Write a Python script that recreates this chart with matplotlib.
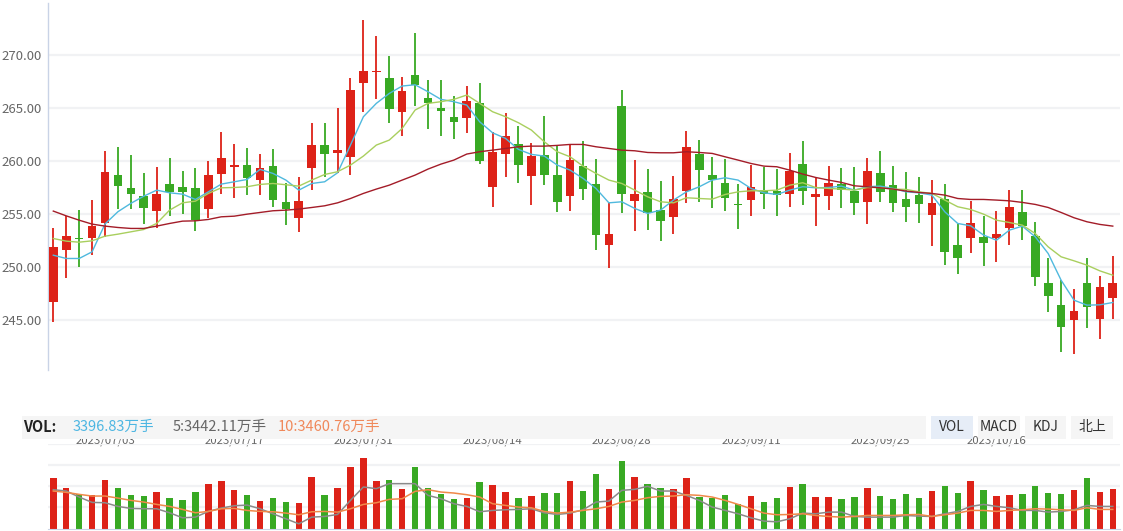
import matplotlib.pyplot as plt
from matplotlib.patches import Rectangle
import numpy as np

plt.rcParams['font.family'] = ['Noto Sans CJK SC', 'DejaVu Sans']

# 일봉 데이터 (시가, 고가, 저가, 종가)
opens = [246.67, 251.59, 252.70, 252.72, 254.14, 258.65, 257.42, 256.66, 255.28, 257.80,
         257.52, 257.39, 255.47, 258.78, 259.44, 259.60, 258.21, 259.50, 256.10, 254.62,
         259.34, 261.49, 260.76, 260.38, 267.38, 268.39, 267.82, 264.64, 268.11, 265.93,
         264.99, 264.14, 264.07, 265.46, 257.55, 260.67, 261.58, 258.59, 260.54, 258.65,
         256.70, 259.50, 257.80, 252.00, 265.18, 256.22, 257.04, 255.34, 254.71, 257.17,
         260.64, 258.65, 257.89, 255.85, 256.32, 257.23, 257.14, 256.89, 259.69, 256.60,
         256.70, 257.80, 257.14, 256.13, 258.84, 257.71, 256.38, 256.76, 254.90, 256.38,
         252.00, 252.72, 252.76, 252.72, 253.67, 255.12, 252.94, 248.50, 246.42, 244.91,
         248.41, 245.06, 247.08]
highs = [253.61, 254.80, 255.34, 256.29, 260.92, 261.30, 260.54, 258.84, 259.41, 260.26,
         259.03, 259.31, 259.97, 262.72, 261.58, 261.20, 260.64, 261.11, 257.86, 258.46,
         263.57, 263.57, 264.99, 267.82, 273.31, 271.80, 269.91, 267.92, 272.08, 267.64,
         267.64, 266.12, 267.07, 267.35, 262.72, 264.51, 263.28, 261.68, 264.23, 261.49,
         261.58, 261.87, 260.16, 256.10, 266.69, 260.07, 259.22, 258.08, 258.56, 262.81,
         261.96, 260.35, 260.16, 257.80, 259.60, 259.41, 259.25, 260.73, 261.87, 258.40,
         259.50, 259.31, 259.41, 260.26, 260.92, 259.50, 258.93, 258.46, 258.18, 257.80,
         254.05, 256.19, 254.77, 255.25, 257.23, 257.23, 254.21, 250.77, 248.78, 247.84,
         250.86, 249.16, 250.96]
lows = [244.78, 248.94, 249.98, 251.08, 252.82, 255.44, 255.44, 254.05, 253.67, 254.80,
        254.99, 253.39, 254.62, 256.82, 256.51, 256.79, 256.79, 255.66, 253.95, 253.29,
        257.26, 258.49, 258.87, 258.68, 264.64, 265.87, 263.60, 262.37, 265.21, 263.03,
        262.37, 262.09, 262.65, 259.72, 255.66, 258.49, 257.93, 255.84, 257.74, 255.18,
        255.28, 256.32, 251.59, 249.89, 255.09, 253.39, 253.48, 252.44, 253.10, 256.03,
        256.13, 255.56, 255.28, 253.58, 254.80, 255.47, 254.80, 255.66, 255.84, 253.86,
        255.37, 255.56, 254.90, 254.05, 256.13, 255.18, 254.24, 254.14, 251.97, 250.17,
        249.32, 251.31, 250.08, 250.45, 252.06, 252.53, 248.18, 245.73, 241.94, 241.75,
        244.21, 243.17, 245.06]
closes = [251.84, 252.94, 252.62, 253.83, 258.93, 257.64, 256.89, 255.56, 256.85, 257.07,
          257.07, 254.43, 258.65, 260.26, 259.63, 258.40, 259.31, 256.32, 255.44, 256.19,
          261.49, 260.67, 261.01, 266.69, 268.49, 268.52, 264.92, 266.60, 267.13, 265.46,
          264.74, 263.66, 265.65, 260.01, 260.86, 262.34, 259.63, 260.45, 258.68, 256.13,
          260.07, 257.36, 253.01, 253.13, 256.82, 256.85, 255.03, 254.33, 256.38, 261.30,
          259.16, 258.21, 256.51, 255.78, 257.52, 256.89, 256.76, 259.03, 257.17, 256.85,
          257.89, 257.23, 256.03, 259.03, 257.04, 256.03, 255.66, 255.94, 256.00, 251.40,
          250.83, 254.17, 252.25, 253.13, 255.59, 253.86, 249.04, 247.18, 244.31, 245.76,
          246.20, 248.03, 248.50]

# 이동평균선
ma5 = [251.08, 250.77, 250.77, 251.40, 254.03, 255.19, 255.98, 256.66, 257.23, 256.98,
       256.85, 256.35, 257.07, 257.80, 258.02, 258.24, 259.19, 258.81, 258.18, 257.23,
       257.86, 258.02, 258.87, 261.49, 264.17, 265.43, 266.37, 267.07, 267.19, 266.53,
       265.81, 265.59, 265.27, 263.69, 262.65, 262.12, 261.08, 260.61, 260.45, 259.60,
       259.12, 258.34, 257.39, 256.03, 256.13, 255.50, 255.03, 255.34, 256.29, 257.07,
       257.55, 258.18, 258.40, 258.18, 257.39, 256.98, 256.82, 257.23, 257.55, 257.45,
       257.48, 257.61, 257.23, 257.55, 257.61, 257.39, 257.07, 256.98, 256.76, 255.18,
       254.08, 253.86, 252.98, 252.50, 253.45, 253.83, 252.82, 251.24, 248.72, 246.83,
       246.36, 246.39, 246.61]
ma10 = [252.66, 252.41, 252.31, 252.44, 252.88, 253.07, 253.29, 253.51, 254.08, 255.34,
        256.03, 256.19, 256.92, 257.45, 257.48, 257.55, 257.77, 257.86, 257.74, 257.61,
        258.18, 258.71, 258.97, 259.60, 260.45, 261.49, 261.96, 263.06, 264.80, 265.43,
        265.59, 265.81, 266.22, 265.43, 264.64, 264.17, 263.60, 262.91, 261.80, 260.86,
        260.38, 259.50, 258.81, 258.18, 257.86, 257.23, 256.60, 256.13, 256.03, 256.51,
        256.44, 256.38, 256.82, 257.07, 257.17, 257.17, 257.23, 257.70, 257.93, 257.48,
        257.39, 257.33, 257.23, 257.48, 257.48, 257.33, 257.30, 257.07, 256.92, 256.29,
        255.66, 255.40, 254.96, 254.39, 254.17, 253.92, 253.13, 251.87, 250.93, 250.55,
        250.14, 249.60, 249.19]
ma30 = [255.25, 254.80, 254.39, 254.02, 253.83, 253.70, 253.61, 253.61, 253.83, 254.08,
        254.30, 254.33, 254.46, 254.71, 254.77, 254.96, 255.12, 255.28, 255.34, 255.44,
        255.59, 255.75, 256.03, 256.44, 256.92, 257.33, 257.70, 258.18, 258.65, 259.22,
        259.69, 260.07, 260.64, 260.86, 261.01, 261.17, 261.33, 261.39, 261.39, 261.46,
        261.55, 261.55, 261.33, 261.17, 261.01, 260.95, 260.79, 260.76, 260.76, 260.86,
        260.79, 260.70, 260.38, 260.07, 259.75, 259.50, 259.44, 259.12, 258.75, 258.43,
        258.18, 257.96, 257.64, 257.55, 257.45, 257.33, 257.14, 257.01, 256.92, 256.76,
        256.44, 256.35, 256.35, 256.29, 256.22, 256.07, 255.88, 255.59, 255.12, 254.62,
        254.24, 253.99, 253.83]

# 거래량 (万手)
volumes = [4355, 3484, 2961, 2874, 4180, 3484, 2874, 2787, 3135, 2613,
           2439, 3135, 3832, 4093, 3309, 2874, 2351, 2613, 2264, 2177,
           4442, 2874, 3484, 5312, 6096, 4093, 4180, 3397, 5312, 3484,
           2961, 2526, 2613, 4006, 3745, 3135, 2613, 2787, 3048, 3048,
           4093, 3222, 4703, 3397, 5835, 4442, 3832, 3484, 3397, 4355,
           2700, 2613, 2874, 2090, 2787, 2264, 2613, 3571, 3832, 2700,
           2700, 2526, 2700, 3484, 2787, 2526, 2961, 2613, 3222, 3658,
           3048, 4093, 3309, 2787, 2874, 2961, 3658, 3048, 2961, 3309,
           4355, 3135, 3397]
vol_ma5 = [3367, 3251, 2729, 2264, 2235, 1916, 1742, 1713, 1713, 1364,
           929, 987, 1481, 1771, 1974, 2032, 1713, 1277, 842, 406,
           987, 1045, 1219, 2439, 3600, 3455, 3890, 3890, 3890, 2874,
           2584, 2148, 1916, 1452, 1568, 1626, 1655, 1713, 1364, 1219,
           1335, 1626, 2293, 2380, 3309, 3397, 3658, 3251, 3251, 2874,
           2439, 1858, 1568, 1277, 929, 639, 581, 842, 1335, 1277,
           1422, 1422, 1045, 987, 987, 987, 1132, 1074, 1045, 1277,
           1481, 1916, 2090, 1916, 1800, 1568, 1568, 1422, 1481, 1626,
           2003, 1916, 1916]
vol_ma10 = [3251, 3135, 2961, 2816, 2816, 2642, 2439, 2293, 2090, 1916,
            1655, 1364, 1481, 1713, 1742, 1568, 1481, 1452, 1335, 1190,
            1452, 1481, 1422, 1713, 2090, 2235, 2526, 2584, 3222, 3367,
            3164, 3077, 2932, 2729, 2148, 2003, 1858, 1800, 1481, 1335,
            1422, 1568, 1713, 1916, 2293, 2439, 2671, 2787, 2816, 2932,
            2874, 2729, 2439, 2090, 1713, 1335, 1190, 1219, 1277, 1132,
            1045, 987, 1045, 1132, 1132, 1132, 1190, 1219, 1045, 1190,
            1335, 1568, 1568, 1481, 1568, 1626, 1713, 1684, 1626, 1568,
            1800, 1655, 1655]

# x축 날짜 라벨
date_idx = [4, 14, 24, 34, 44, 54, 64, 73]
date_labels = ['2023/07/03', '2023/07/17', '2023/07/31', '2023/08/14',
               '2023/08/28', '2023/09/11', '2023/09/25', '2023/10/16']
price_ticks = [245, 250, 255, 260, 265, 270]

RED = '#dd2218'
GREEN = '#38a923'
GRID = '#f1f2f4'

W, H = 1123, 531
fig = plt.figure(figsize=(W / 100, H / 100), dpi=100)

o = np.array(opens)
c = np.array(closes)
x = np.arange(len(o))
up = c >= o
colors = np.where(up, RED, GREEN)

x0, x1 = 47.5, 1119.5
xlim = (-0.45, 82.52)

# 가격 차트
ax = fig.add_axes([x0 / W, 1 - 370 / H, (x1 - x0) / W, (370 - 3.3) / H])
ax.set_xlim(*xlim)
ax.set_ylim(240.23, 274.89)
ax.vlines(x, lows, highs, colors=colors, linewidth=1.3, zorder=2)
body_bottom = np.minimum(o, c)
body_h = np.maximum(np.abs(c - o), 0.13)
ax.bar(x, body_h, bottom=body_bottom, width=0.67, color=colors, linewidth=0, zorder=3)
ax.plot(x, ma5, color='#4fb9de', lw=1.0, zorder=4)
ax.plot(x, ma10, color='#a9cf5e', lw=1.0, zorder=4)
ax.plot(x, ma30, color='#a31c28', lw=1.0, zorder=4)
ax.set_yticks(price_ticks)
ax.set_yticklabels(['%.2f' % v for v in price_ticks])
ax.tick_params(axis='y', length=0, pad=4, labelsize=9.5, labelcolor='#666666')
ax.set_xticks([])
ax.grid(axis='y', color=GRID, lw=1.6, zorder=0)
for s in ['top', 'right', 'bottom']:
    ax.spines[s].set_visible(False)
ax.spines['left'].set_color('#c9d3e6')
ax.spines['left'].set_linewidth(1.0)

# 거래량 차트
axv = fig.add_axes([x0 / W, 1 - 528.5 / H, (x1 - x0) / W, 85 / H])
axv.set_xlim(*xlim)
axv.set_ylim(0, 7374)
axv.bar(x, volumes, width=0.5, color=colors, linewidth=0, zorder=2)
axv.plot(x, vol_ma5, color='#8a8a8a', lw=1.1, zorder=3)
axv.plot(x, vol_ma10, color='#f0894a', lw=1.1, zorder=3)
axv.set_yticks([1843.5, 3687, 5530.5, 7374])
axv.set_yticklabels([])
axv.tick_params(axis='y', length=0)
axv.grid(axis='y', color=GRID, lw=1.6, zorder=0)
axv.set_xticks(date_idx)
axv.set_xticklabels(date_labels)
axv.xaxis.set_ticks_position('top')
axv.tick_params(axis='x', length=0, pad=-2, labelsize=8.2, labelcolor='#666666')
for s in ['top', 'right', 'left']:
    axv.spines[s].set_visible(False)
axv.spines['bottom'].set_color('#c9d3e6')

# VOL 헤더 띠
def fig_rect(xa, xb, ya, yb, color):
    fig.add_artist(Rectangle((xa / W, 1 - yb / H), (xb - xa) / W, (yb - ya) / H,
                             transform=fig.transFigure, color=color, lw=0, zorder=5))

fig_rect(22, 926, 416, 439, '#f5f5f5')
buttons = [('VOL', 931.4, 972.5, '#e6edf7'), ('MACD', 977.9, 1019.6, '#f5f5f5'),
           ('KDJ', 1025, 1066.4, '#f5f5f5'), ('北上', 1071.4, 1112.9, '#f5f5f5')]
for name, xa, xb, col in buttons:
    fig_rect(xa, xb, 416, 439, col)
    fig.text((xa + xb) / 2 / W, 1 - 427 / H, name, ha='center', va='center',
             fontsize=10, color='#333333', zorder=6)

ty = 1 - 427 / H
fig.text(23 / W, ty, 'VOL:', fontsize=10.5, fontweight='bold', color='#222222', va='center', zorder=6)
fig.text(72.7 / W, ty, '3396.83万手', fontsize=10.5, color='#4db6e2', va='center', zorder=6)
fig.text(172.3 / W, ty, '5:3442.11万手', fontsize=10.5, color='#666666', va='center', zorder=6)
fig.text(277.7 / W, ty, '10:3460.76万手', fontsize=10.5, color='#f0885a', va='center', zorder=6)

fig.savefig('out.png', dpi=100)
